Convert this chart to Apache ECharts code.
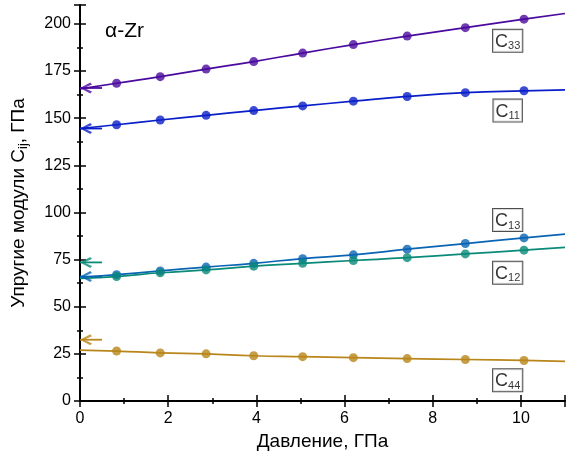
<!DOCTYPE html>
<html><head><meta charset="utf-8">
<script src="https://cdn.jsdelivr.net/npm/echarts@6/dist/echarts.min.js"></script>
<style>html,body{margin:0;padding:0;background:#fff}#c{width:568px;height:461px}</style>
</head><body><div id="c"></div>
<script>
// pressure values of computed points (GPa)
const pressure = [0.83, 1.82, 2.86, 3.94, 5.05, 6.2, 7.42, 8.74, 10.07];
const C33 = [168.5, 172, 176, 180, 184.5, 189, 193.5, 198, 202.5];
const C11 = [146.5, 149, 151.5, 154, 156.5, 159, 161.5, 163.5, 164.5];
const C13 = [67, 69, 71, 73, 75.5, 77.5, 80.5, 83.5, 86.5];
const C12 = [66, 68, 69.5, 71.5, 73, 74.5, 76, 78, 80];
const C44 = [26.5, 25.5, 25, 24, 23.5, 23, 22.5, 22, 21.5];
// fit line end values at P=0 and P=11
const fitStart = {C33: 165.5, C11: 144.5, C13: 65.5, C12: 65, C44: 27};
const fitEnd = {C33: 205.5, C11: 165, C13: 88.5, C12: 81.5, C44: 21};
// experimental values (arrows at P=0)
const expVals = {C33: 166, C11: 144.5, C13: 66, C12: 73.5, C44: 32.5};
const labelPos = {C33: [9.7, 191], C11: [9.7, 154], C13: [9.7, 96], C12: [9.7, 68], C44: [9.7, 11]};
const xTicks = [0, 2, 4, 6, 8, 10];
const yTicks = [0, 25, 50, 75, 100, 125, 150, 175, 200];

const colors = {C33: '#4b0a9e', C11: '#0a1fc8', C13: '#0a64b4', C12: '#0a8a78', C44: '#b8861a'};
const dataSets = {C33, C11, C13, C12, C44};
const names = ['C33', 'C11', 'C13', 'C12', 'C44'];
const arrowHead = 'path://M0,5 L8.6,0 L10,1.8 L3.4,5 L10,8.2 L8.6,10 Z';

const series = [];
names.forEach(n => {
  const pts = pressure.map((p, i) => [p, dataSets[n][i]]);
  series.push({
    type: 'line', name: n + 'fit', smooth: true, showSymbol: false, silent: true,
    data: [[0, fitStart[n]], ...pts, [11, fitEnd[n]]],
    lineStyle: {color: colors[n], width: 1.7}, z: 2
  });
  // experimental arrow: shaft + head
  series.push({
    type: 'line', name: n + 'exp', showSymbol: false, silent: true,
    data: [[0.5, expVals[n]], [0, expVals[n]]],
    lineStyle: {color: colors[n], width: 1.8}, z: 4
  });
  series.push({
    type: 'scatter', name: n + 'head', silent: true, data: [[0, expVals[n]]],
    symbol: arrowHead, symbolSize: [12, 11], symbolOffset: [6, 0],
    itemStyle: {color: colors[n]}, z: 4
  });
  series.push({
    type: 'scatter', name: n, data: pts, symbolSize: 9,
    itemStyle: {color: colors[n]}, z: 3
  });
  series.push({
    type: 'scatter', name: n + 'lbl', data: [labelPos[n]], symbolSize: 0, silent: true,
    label: {
      show: true, position: 'inside',
      formatter: '{c|C}{s|' + n.slice(1) + '}',
      borderColor: '#222', borderWidth: 1, padding: [2, 2, 0, 2], backgroundColor: '#fff',
      rich: {
        c: {fontFamily: 'Liberation Sans', fontSize: 18, color: '#000'},
        s: {fontFamily: 'Liberation Sans', fontSize: 11, color: '#000', verticalAlign: 'bottom', padding: [9, 0, 0, 0]}
      }
    }
  });
});

const axisFont = {fontFamily: 'Liberation Sans', fontSize: 16, color: '#000'};
const chart = echarts.init(document.getElementById('c'));
chart.setOption({
  animation: false,
  grid: {left: 80, right: 0, top: 5, bottom: 60, containLabel: false},
  graphic: [{type: 'text', left: 105, top: 21, style: {text: 'α-Zr', fontFamily: 'Liberation Sans', fontSize: 21, fill: '#000'}}],
  xAxis: [{
    type: 'value', min: 0, max: 11, interval: 2,
    name: 'Давление, ГПа', nameLocation: 'middle', nameGap: 31,
    nameTextStyle: {fontFamily: 'Liberation Sans', fontSize: 19, color: '#000'},
    axisLine: {show: true, onZero: false, lineStyle: {color: '#000', width: 2}},
    axisTick: {inside: true, length: 6, lineStyle: {color: '#000', width: 1.5}},
    minorTick: {show: true, splitNumber: 2, length: 3, lineStyle: {color: '#000', width: 1.5}},
    axisLabel: Object.assign({margin: 10, formatter: v => xTicks.includes(v) ? String(v) : ''}, axisFont),
    splitLine: {show: false}
  }, {
    type: 'value', min: 0, max: 11, interval: 2, position: 'top',
    axisLine: {show: true, lineStyle: {color: '#000', width: 1.5}},
    axisTick: {inside: true, length: 6, lineStyle: {color: '#000', width: 1.5}},
    minorTick: {show: true, splitNumber: 2, length: 3, lineStyle: {color: '#000', width: 1.5}},
    axisLabel: {show: false}, splitLine: {show: false}
  }],
  yAxis: [{
    type: 'value', min: 0, max: 210, interval: 25,
    name: '{a|Упругие модули C}{s|ij}{a|, ГПа}', nameLocation: 'middle', nameGap: 50,
    nameTextStyle: {rich: {
      a: {fontFamily: 'Liberation Sans', fontSize: 19, color: '#000'},
      s: {fontFamily: 'Liberation Sans', fontSize: 13, color: '#000', verticalAlign: 'bottom', padding: [10, 0, 0, 0]}
    }},
    axisLine: {show: true, onZero: false, lineStyle: {color: '#000', width: 2}},
    axisTick: {inside: true, length: 6, lineStyle: {color: '#000', width: 1.5}},
    minorTick: {show: true, splitNumber: 2, length: 3, lineStyle: {color: '#000', width: 1.5}},
    axisLabel: Object.assign({margin: 9, formatter: v => yTicks.includes(v) ? String(v) : ''}, axisFont),
    splitLine: {show: false}
  }, {
    type: 'value', min: 0, max: 210, interval: 25, position: 'right',
    axisLine: {show: true, lineStyle: {color: '#000', width: 1.5}},
    axisTick: {inside: true, length: 6, lineStyle: {color: '#000', width: 1.5}},
    minorTick: {show: true, splitNumber: 2, length: 3, lineStyle: {color: '#000', width: 1.5}},
    axisLabel: {show: false}, splitLine: {show: false}
  }],
  series: series
});
</script>
</body></html>
